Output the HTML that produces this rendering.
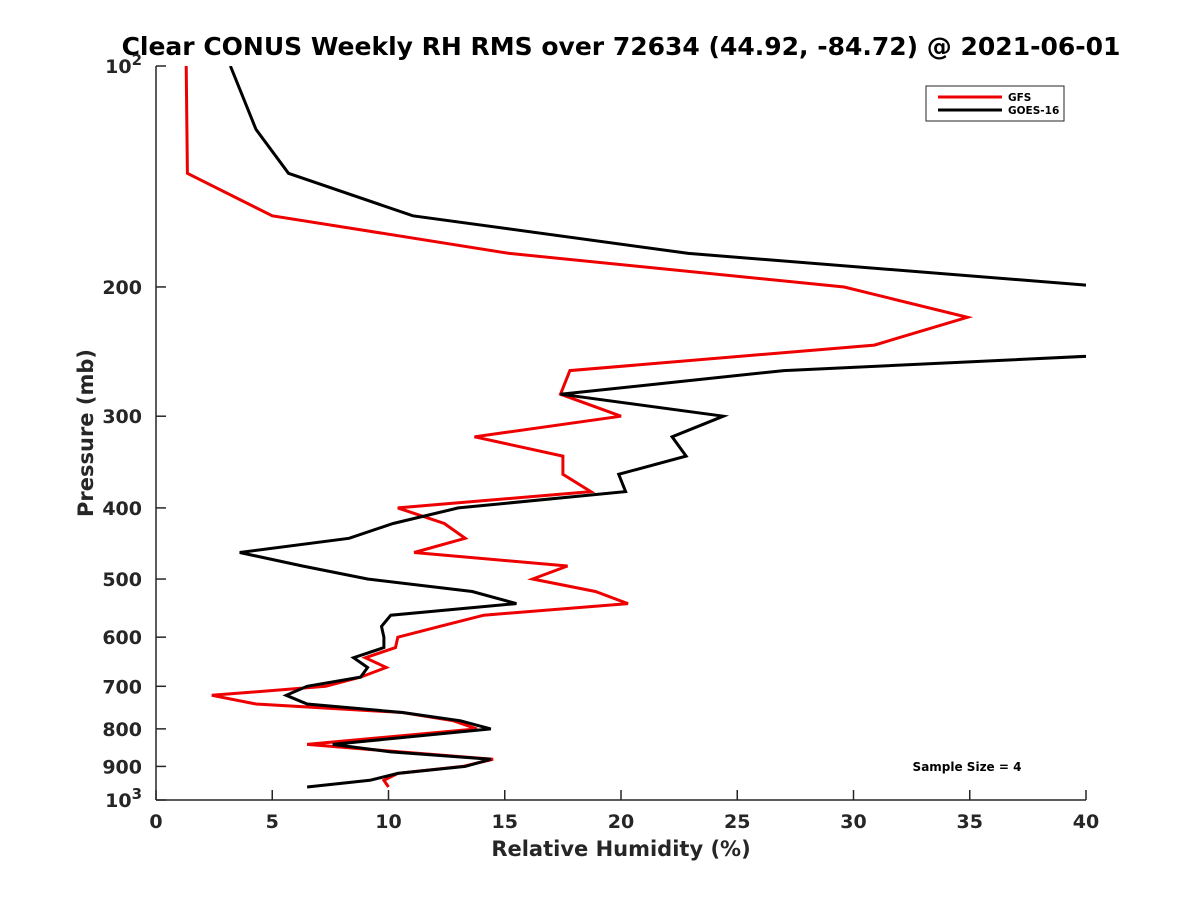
<!DOCTYPE html>
<html><head><meta charset="utf-8"><style>
body{margin:0;background:#fff}
svg{display:block;font-family:"DejaVu Sans","Liberation Sans",sans-serif;font-weight:bold}
</style></head><body>
<svg id="chart" width="1200" height="900" viewBox="0 0 1200 900">
<rect width="1200" height="900" fill="#fff"/>
<defs><clipPath id="plotclip"><rect x="156" y="66" width="930" height="734"/></clipPath></defs>
<text x="621" y="55" text-anchor="middle" font-size="25" fill="#000">Clear CONUS Weekly RH RMS over 72634 (44.92, -84.72) @ 2021-06-01</text>
<g id="axes"></g>
<g id="series" clip-path="url(#plotclip)"></g>
<g>
<rect x="926" y="86" width="138" height="35" fill="#fff" stroke="#262626" stroke-width="1"/>
<line x1="938" y1="97" x2="1002" y2="97" stroke="#e00" stroke-width="3"/>
<text x="1008" y="101" font-size="10.5" fill="#000">GFS</text>
<line x1="938" y1="110" x2="1002" y2="110" stroke="#000" stroke-width="3"/>
<text x="1008" y="114" font-size="10.5" fill="#000">GOES-16</text>
</g>
<text x="967" y="771" text-anchor="middle" font-size="12" fill="#000">Sample Size = 4</text>
<text x="621" y="856" text-anchor="middle" font-size="21" fill="#262626">Relative Humidity (%)</text>
<text transform="translate(93,433) rotate(-90)" text-anchor="middle" font-size="21" fill="#262626">Pressure (mb)</text>
</svg>
<script>
const xTicks=[0,5,10,15,20,25,30,35,40];
const yTicks=[100,200,300,400,500,600,700,800,900,1000];
const yTickLabels=["10|2","200","300","400","500","600","700","800","900","10|3"];
const gfsP=[100,140,160,180,200,220,240,260,280,300,320,340,360,380,400,420,440,460,480,500,520,540,560,580,600,620,640,660,680,700,720,740,760,780,800,840,860,880,900,920,940,960];
const gfsRH=[1.3,1.35,5.0,15.2,29.6,34.9,30.9,17.8,17.4,20.0,13.7,17.5,17.5,18.7,10.4,12.4,13.3,11.1,17.7,16.2,18.9,20.3,14.1,12.2,10.4,10.3,9.0,9.9,8.8,7.3,2.4,4.3,10.6,12.8,13.8,6.5,10.5,14.5,13.2,10.4,9.8,10.0];
const goesP=[100,122,140,160,180,200,220,240,260,280,300,320,340,360,380,400,420,440,460,480,500,520,540,560,580,600,620,640,660,680,700,720,740,760,780,800,840,860,880,900,920,940,960];
const goesRH=[3.2,4.3,5.7,11.05,22.9,41,52,50.2,27.0,17.4,24.4,22.2,22.8,19.9,20.2,13.0,10.2,8.3,3.6,6.3,9.1,13.6,15.5,10.1,9.7,9.8,9.8,8.5,9.1,8.8,6.5,5.6,6.5,10.6,13.1,14.4,7.6,10.1,14.4,13.3,10.4,9.2,6.5];
const X0=156,X1=1086,Y0=66,Y1=800;
const xs=v=>X0+(v/40)*(X1-X0);
const ys=p=>Y0+(Math.log10(p)-2)*(Y1-Y0);
const NS="http://www.w3.org/2000/svg";
const axes=document.getElementById('axes'),ser=document.getElementById('series');
function mk(tag,attrs,parent){const e=document.createElementNS(NS,tag);for(const k in attrs)e.setAttribute(k,attrs[k]);parent.appendChild(e);return e;}
let e=mk('line',{x1:X0,y1:Y0,x2:X0,y2:Y1,stroke:'#262626','stroke-width':1.5},axes);


e=mk('line',{x1:X0,y1:Y1,x2:X1,y2:Y1,stroke:'#262626','stroke-width':1.5},axes);


xTicks.forEach(t=>{
 const x=xs(t);
 let l=mk('line',{x1:x,y1:Y1,x2:x,y2:Y1-10,stroke:'#262626','stroke-width':1.5},axes);
 
 
 let tx=mk('text',{x:x,y:Y1+28,'text-anchor':'middle','font-size':19,fill:'#262626'},axes);
 tx.textContent=t;
 
 
});
yTicks.forEach((t,i)=>{
 const y=ys(t);
 let l=mk('line',{x1:X0,y1:y,x2:X0+10,y2:y,stroke:'#262626','stroke-width':1.5},axes);
 
 
 const lab=yTickLabels[i];
 let tx=mk('text',{x:X0-14,y:y+7,'text-anchor':'end','font-size':19,fill:'#262626'},axes);
 
 
 if(lab.includes('|')){
  const [b,s]=lab.split('|');
  const t1=mk('tspan',{},tx);t1.textContent=b;
  const t2=mk('tspan',{dy:-8,'font-size':15},tx);t2.textContent=s;
 } else tx.textContent=lab;
});
function line(P,R,color,name){
 const pts=P.map((p,i)=>xs(R[i]).toFixed(1)+','+ys(p).toFixed(1)).join(' ');
 const pl=mk('polyline',{points:pts,fill:'none',stroke:color,'stroke-width':3,'stroke-linejoin':'miter'},ser);
 
 
}
line(gfsP,gfsRH,'#e00','gfs-line');
line(goesP,goesRH,'#000','goes16-line');
</script>
</body></html>
